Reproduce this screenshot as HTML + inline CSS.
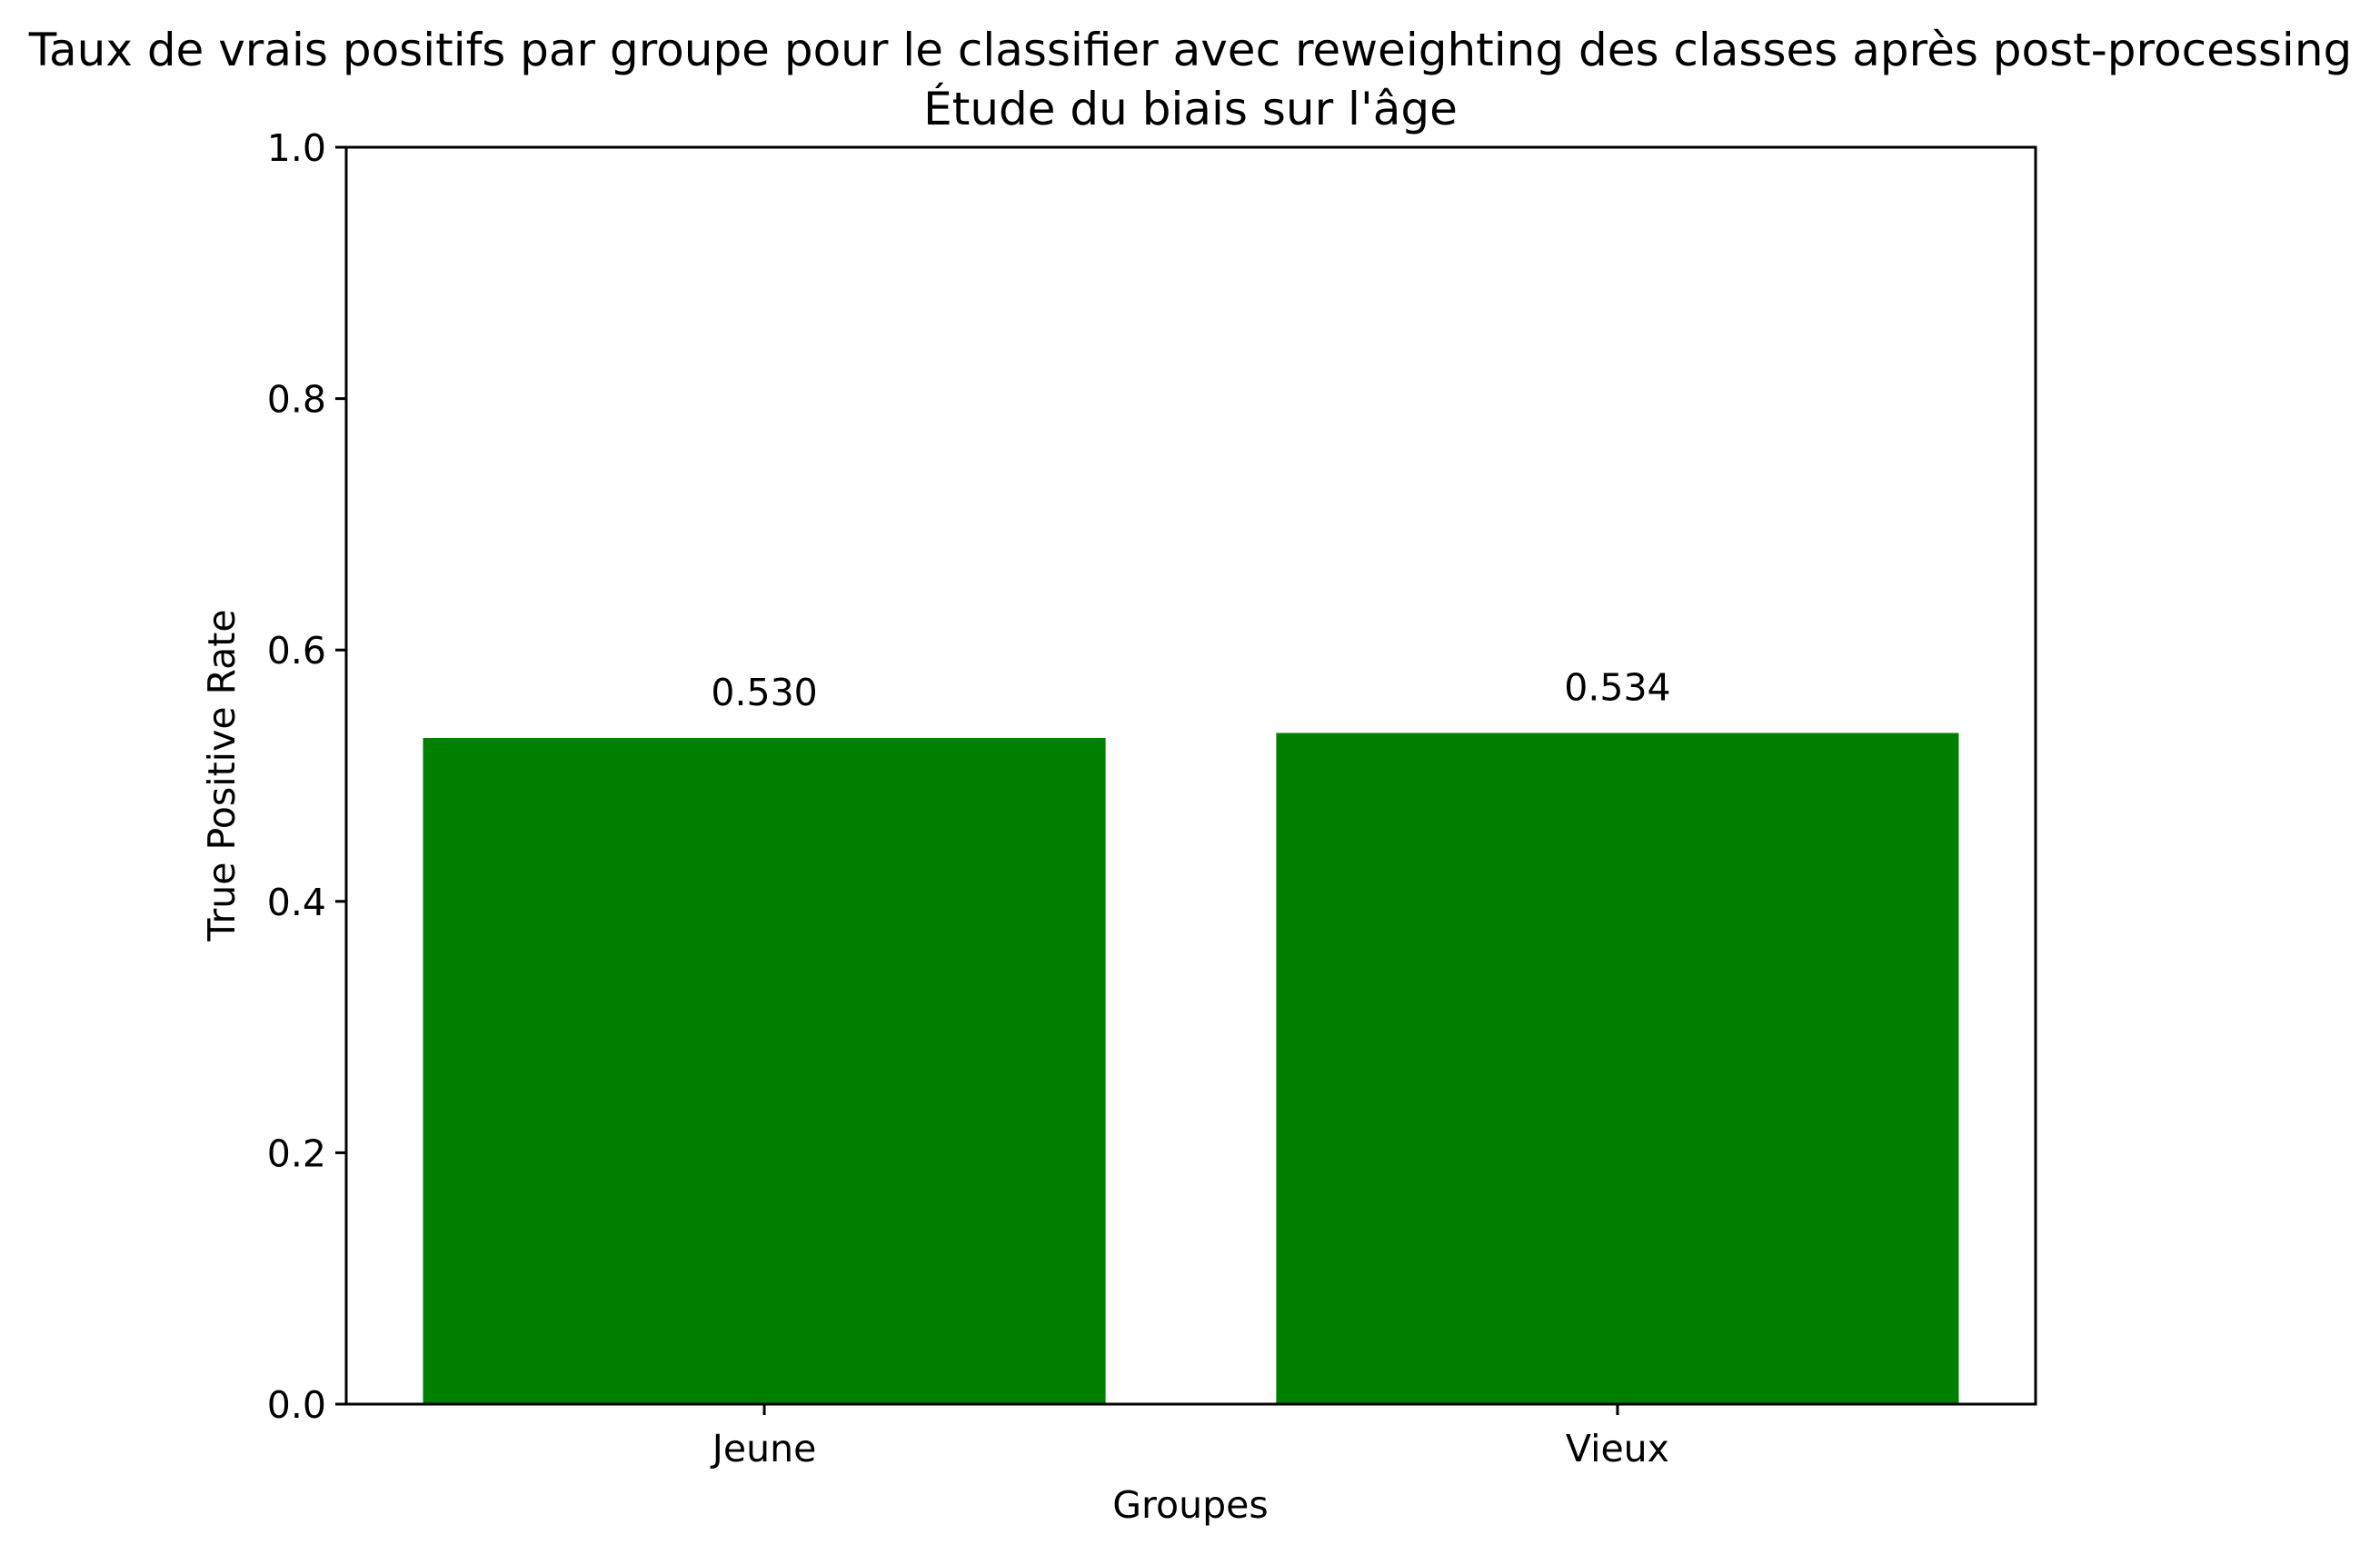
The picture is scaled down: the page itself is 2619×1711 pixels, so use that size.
<!DOCTYPE html>
<html><head><meta charset="utf-8"><style>
html,body{margin:0;padding:0;background:#fff;}
svg text{font-family:"DejaVu Sans","Liberation Sans",sans-serif;fill:#000;}
</style></head><body>
<svg id="chart" width="2619" height="1706" viewBox="0 0 2619 1706" xmlns="http://www.w3.org/2000/svg">
<rect width="2619" height="1706" fill="#fff"/>
<text x="1310" y="72" font-size="50" text-anchor="middle">Taux de vrais positifs par groupe pour le classifier avec reweighting des classes après post-processing</text>
<text x="1310" y="137" font-size="50" text-anchor="middle">Étude du biais sur l'âge</text>
<g id="bars"></g>
<g id="yaxis"></g>
<g id="xaxis"></g>
<rect x="381" y="162" width="1859" height="1383" fill="none" stroke="#000" stroke-width="3"/>
<text x="1310" y="1670" font-size="41" text-anchor="middle">Groupes</text>
<text transform="translate(258,853) rotate(-90)" font-size="41" text-anchor="middle">True Positive Rate</text>
</svg>
<script>
const categories = ["Jeune", "Vieux"];
const values = [0.530, 0.534];
const valueLabels = ["0.530", "0.534"];
const yTicks = [0.0, 0.2, 0.4, 0.6, 0.8, 1.0];
const yTickLabels = ["0.0", "0.2", "0.4", "0.6", "0.8", "1.0"];

const NS = "http://www.w3.org/2000/svg";
const L = 381, R = 2240, T = 162, B = 1545;
function yScale(v){ return B - (v - 0) / (1 - 0) * (B - T); }
const n = categories.length;
const dMin = -0.4, dMax = (n - 1) + 0.4, pad = 0.05 * (dMax - dMin);
function xScale(i){ return L + (i - (dMin - pad)) / ((dMax + pad) - (dMin - pad)) * (R - L); }
function mk(tag, attrs){ const e = document.createElementNS(NS, tag); for (const k in attrs) e.setAttribute(k, attrs[k]); return e; }

const bars = document.getElementById("bars");
categories.forEach((c, i) => {
  const xl = xScale(i - 0.4), xr = xScale(i + 0.4);
  const r = mk("rect", {x: xl, y: yScale(values[i]), width: xr - xl, height: B - yScale(values[i]), fill: "#008000"});
  
  
  bars.appendChild(r);
  const t = mk("text", {x: xScale(i), y: yScale(values[i]) - 36, "font-size": 41, "text-anchor": "middle"});
  t.textContent = valueLabels[i];
  
  
  bars.appendChild(t);
});

const ya = document.getElementById("yaxis");
yTicks.forEach((v, i) => {
  const y = yScale(v);
  const l = mk("line", {x1: L - 12, x2: L, y1: y, y2: y, stroke: "#000", "stroke-width": 3});
  
  
  ya.appendChild(l);
  const t = mk("text", {x: L - 22, y: y + 15, "font-size": 41, "text-anchor": "end"});
  t.textContent = yTickLabels[i];
  
  
  ya.appendChild(t);
});

const xa = document.getElementById("xaxis");
categories.forEach((c, i) => {
  const x = xScale(i);
  const l = mk("line", {x1: x, x2: x, y1: B, y2: B + 12, stroke: "#000", "stroke-width": 3});
  
  
  xa.appendChild(l);
  const t = mk("text", {x: x, y: B + 63, "font-size": 41, "text-anchor": "middle"});
  t.textContent = c;
  
  
  xa.appendChild(t);
});
</script>
</body></html>
